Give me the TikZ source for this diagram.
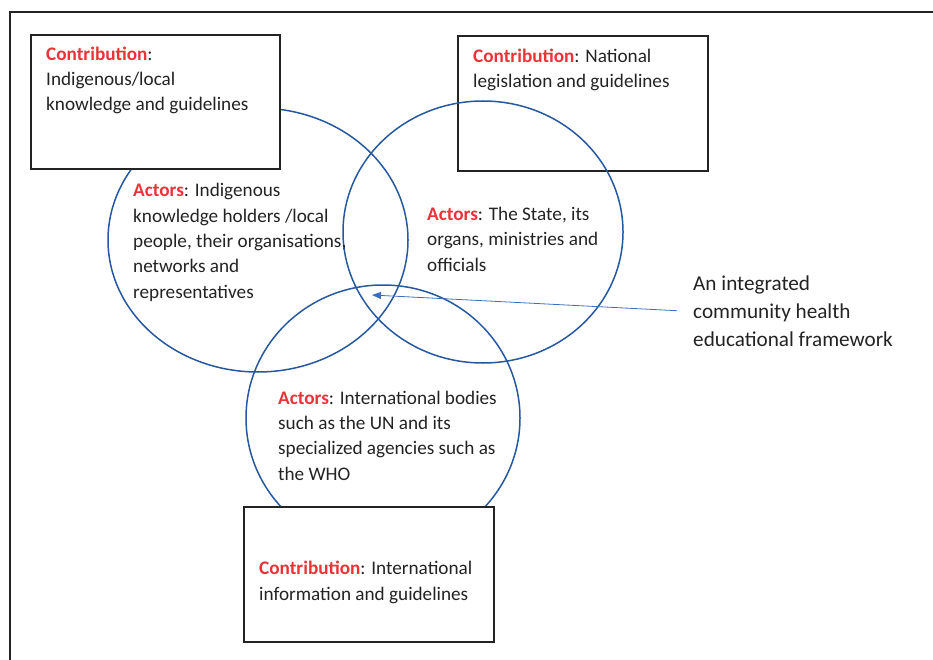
\documentclass[tikz,border=0pt]{standalone}
\usepackage{fontspec}
\setmainfont{Carlito}
\usetikzlibrary{shapes.geometric,arrows.meta}
\definecolor{ringblue}{RGB}{38,88,160}
\definecolor{arrowblue}{RGB}{60,110,190}
\definecolor{keyred}{RGB}{235,50,55}
\definecolor{inkgray}{RGB}{35,35,35}
\newcommand{\contrib}{{\bfseries\color{keyred}Contribution}}
\newcommand{\actors}{{\bfseries\color{keyred}Actors}}

\begin{document}
\begin{tikzpicture}[x=1pt,y=-1pt,
  txt/.style={anchor=base west, inner sep=0pt, align=left, text=inkgray,
    font=\fontsize{19.2}{25.3}\selectfont},
  box/.style={draw=inkgray, line width=1.2pt, fill=white, inner sep=0pt},
  ring/.style={ellipse, draw=ringblue, line width=1.5pt, inner sep=0pt}]
\useasboundingbox (0,0) rectangle (933,660);
% frame
\draw[line width=1.6pt, color=inkgray] (10,660) -- (10,12) -- (933,12);

% national box (behind the ring)
\node[box, fill=none, minimum width=250pt, minimum height=135pt] (natbox) at (583,103.5) {};

% rings
\node[ring, minimum width=300pt, minimum height=264pt] (indig) at (258,240) {};
\node[ring, minimum width=280pt, minimum height=262pt] (state) at (483,232) {};
\node[ring, minimum width=274pt, minimum height=266pt] (intl) at (383,418) {};

% boxes on top
\node[box, minimum width=249pt, minimum height=134pt] (indbox) at (155.5,102) {};
\node[box, minimum width=250pt, minimum height=135pt] (intbox) at (369,574.5) {};

% box texts (placed by the baseline of their last line)
\node[txt] (indtext) at (46,111) {\contrib:\\Indigenous/local\\knowledge and guidelines};
\node[txt] (nattext) at (473,88) {\contrib: National\\legislation and guidelines};
\node[txt] (inttext) at (259,600) {\contrib: International\\information and guidelines};

% ring texts
\node[txt] (indact) at (133,298) {\actors: Indigenous\\knowledge holders /local\\people, their organisations,\\networks and\\representatives};
\node[txt] (stateact) at (427,271) {\actors: The State, its\\organs, ministries and\\officials};
\node[txt] (intlact) at (278,480) {\actors: International bodies\\such as the UN and its\\specialized agencies such as\\the WHO};

% framework label and arrow
\node[txt, font=\fontsize{21.2}{28}\selectfont] (frame) at (693,346) {An integrated\\community health\\educational framework};
\coordinate (centre) at (372,295);
\draw[-{Triangle[length=9pt,width=7pt]}, color=arrowblue, line width=0.8pt] ([xshift=-16pt]frame.west) -- (centre);
\end{tikzpicture}
\end{document}
